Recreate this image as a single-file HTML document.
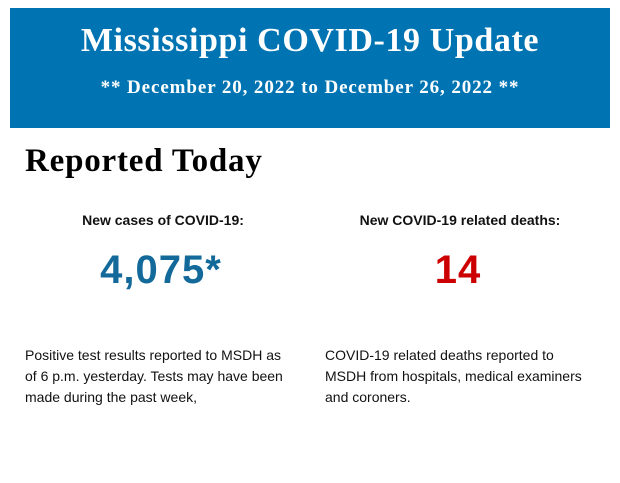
<!DOCTYPE html>
<html><head><meta charset="utf-8"><style>
body{margin:0;width:620px;height:483px;background:#fff;position:relative;overflow:hidden;font-family:"Liberation Sans",sans-serif;}
.ban{position:absolute;left:10px;top:8px;width:600px;height:120px;background:#0074b3;color:#fff;text-align:center;font-family:"Liberation Serif",serif;font-weight:bold;}
.t1{position:absolute;left:0;right:0;top:13px;font-size:34px;line-height:40px;letter-spacing:0.6px;}
.t2{position:absolute;left:0;right:0;top:69px;font-size:19px;line-height:22px;letter-spacing:0.9px;}
.rt{position:absolute;left:25px;top:142px;font-family:"Liberation Serif",serif;font-weight:bold;font-size:33px;line-height:38px;color:#000;letter-spacing:0.8px;}
.lab{position:absolute;top:212px;font-size:14px;font-weight:bold;color:#111;text-align:center;width:300px;}
.num{position:absolute;top:247px;font-size:40px;font-weight:bold;text-align:center;width:300px;line-height:46px;letter-spacing:1px;}
.p{position:absolute;top:345px;font-size:14px;line-height:21px;color:#111;width:262px;}
</style></head><body>
<div class="ban"><div class="t1">Mississippi COVID-19 Update</div><div class="t2">** December 20, 2022 to December 26, 2022 **</div></div>
<div class="rt">Reported Today</div>
<div class="lab" style="left:13px">New cases of COVID-19:</div>
<div class="lab" style="left:310px">New COVID-19 related deaths:</div>
<div class="num" style="left:11px;color:#136a9a">4,075*</div>
<div class="num" style="left:308px;color:#cc0000">14</div>
<div class="p" style="left:25px">Positive test results reported to MSDH as of 6 p.m. yesterday. Tests may have been made during the past week,</div>
<div class="p" style="left:325px">COVID-19 related deaths reported to MSDH from hospitals, medical examiners and coroners.</div>
</body></html>
